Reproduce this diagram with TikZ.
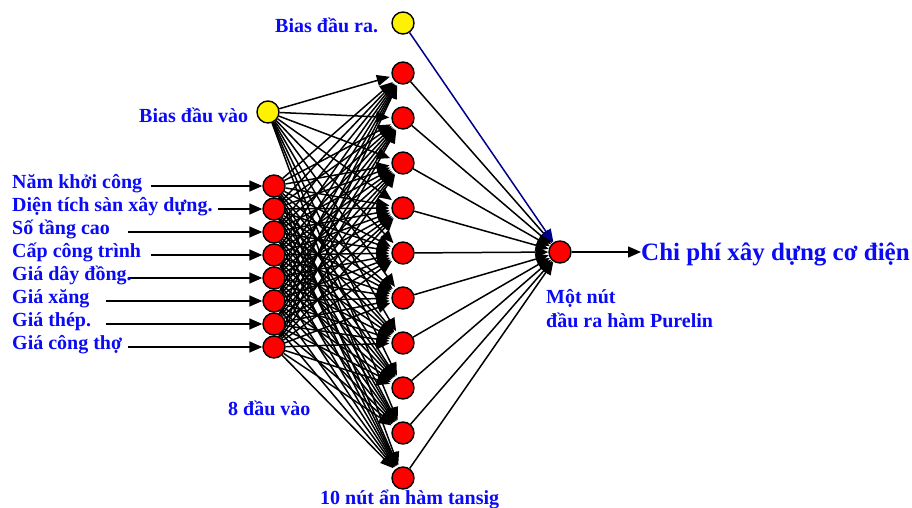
\documentclass[tikz,border=0pt]{standalone}
\usepackage{fontspec}
\setmainfont{Liberation Serif}
\usetikzlibrary{arrows.meta}
\definecolor{navyline}{RGB}{0,0,140}
\definecolor{lblblue}{RGB}{10,10,245}
\pgfdeclarelayer{edges}
\pgfsetlayers{edges,main}

\begin{document}
\begin{tikzpicture}[x=1pt,y=-1pt,
  neuron/.style={circle,draw=black,line width=1.4pt,minimum size=22pt,inner sep=0pt},
  redn/.style={neuron,fill=red},
  yelln/.style={neuron,fill=yellow},
  link/.style={line width=1.5pt,-{Triangle[length=13pt,width=11pt]}},
  lbl/.style={text=lblblue,font=\bfseries\fontsize{20}{24}\selectfont,inner sep=0pt,anchor=base west},
  titlelbl/.style={text=lblblue,font=\bfseries\fontsize{25}{30}\selectfont,inner sep=0pt,anchor=base west},
]
\useasboundingbox (0,0) rectangle (912,508);

% input layer
\foreach \i/\y in {1/186,2/209,3/232,4/255,5/278,6/301,7/324,8/347}
  \node[redn] (i\i) at (274,\y) {};
% hidden layer
\foreach \j in {1,...,10}
  \node[redn] (h\j) at (403,{73+45*(\j-1)}) {};
% biases and output neuron
\node[yelln] (bi) at (268,112) {};
\node[yelln] (bo) at (403,23) {};
\node[redn] (out) at (560,252) {};

% input labels
\node[lbl] (l1) at (12,188) {Năm khởi công};
\node[lbl] (l2) at (12,211) {Diện tích sàn xây dựng.};
\node[lbl] (l3) at (12,234) {Số tầng cao};
\node[lbl] (l4) at (12,257) {Cấp công trình};
\node[lbl] (l5) at (12,280) {Giá dây đồng.};
\node[lbl] (l6) at (12,303) {Giá xăng};
\node[lbl] (l7) at (12,326) {Giá thép.};
\node[lbl] (l8) at (12,349) {Giá công thợ};

% other labels
\node[lbl] (lbo) at (275,33) {Bias đầu ra.};
\node[lbl] (lbi) at (139,123) {Bias đầu vào};
\node[lbl] (lin) at (228,415) {8 đầu vào};
\node[lbl] (lhid) at (320,504) {10 nút ẩn hàm tansig};
\node[lbl] (lout1) at (546,303) {Một nút};
\node[lbl] (lout2) at (546,327) {đầu ra hàm Purelin};
\node[titlelbl] (title) at (641,260) {Chi phí xây dựng cơ điện};

% free ends of the input arrows
\coordinate (s1) at (151,186);
\coordinate (s2) at (218,209);
\coordinate (s3) at (128,232);
\coordinate (s4) at (151,255);
\coordinate (s5) at (128,278);
\coordinate (s6) at (106,301);
\coordinate (s7) at (106,324);
\coordinate (s8) at (128,347);

\begin{pgfonlayer}{edges}
  \fill[white] (0,0) rectangle (912,508);
  \foreach \i in {1,...,8}
    \draw[link] (s\i) -- (i\i);
  \foreach \i in {1,...,8}
    \foreach \j in {1,...,10}
      \draw[link,shorten >=2pt] (i\i) -- (h\j);
  \foreach \j in {1,...,10}
    \draw[link,shorten >=2pt] (bi) -- (h\j);
  \foreach \j in {1,...,10}
    \draw[link] (h\j) -- (out);
  \draw[link,draw=navyline,fill=navyline] (bo) -- (out);
  \draw[link] (out) -- (title.west |- out);
\end{pgfonlayer}
\end{tikzpicture}
\end{document}
